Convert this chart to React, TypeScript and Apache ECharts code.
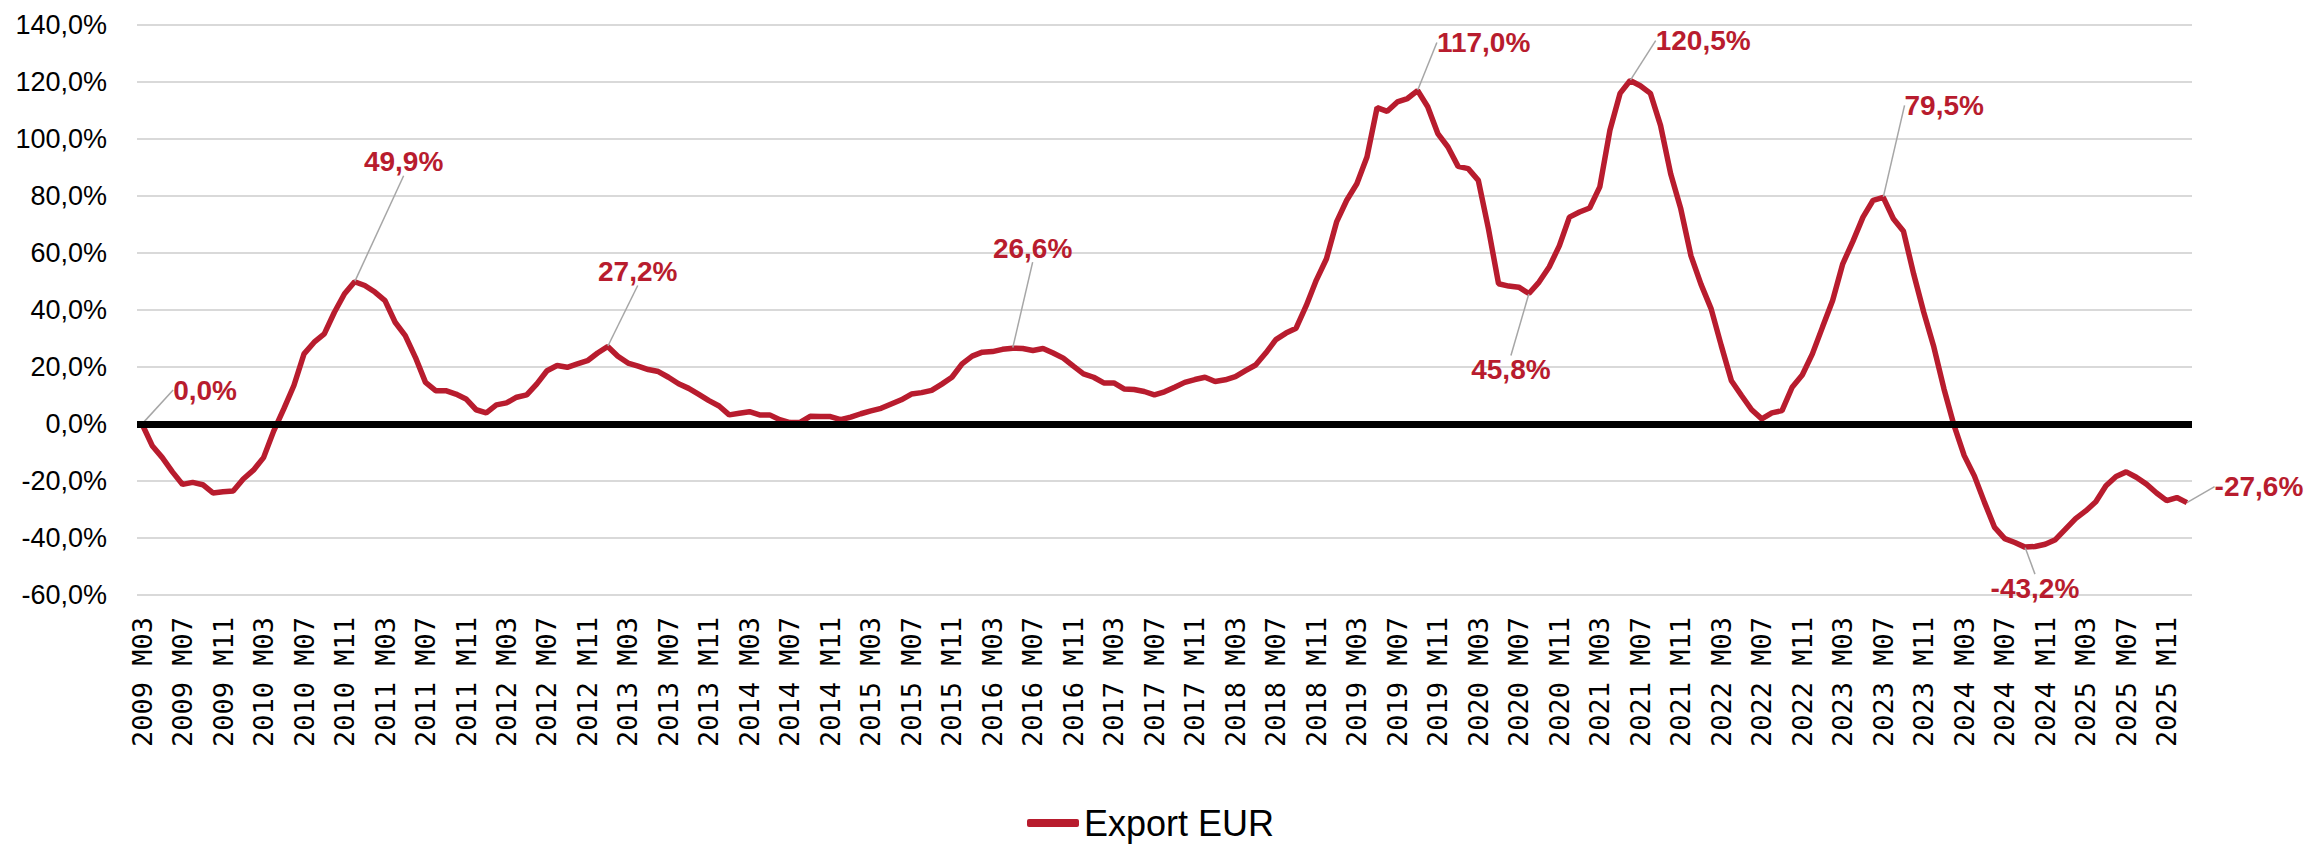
import React, { useEffect, useRef } from "react";
import * as echarts from "echarts";

const startYear = 2009;
const startMonth = 3;
const monthCount = 203;
const categories: string[] = [];
for (let i = 0; i < monthCount; i++) {
  const m = startMonth - 1 + i;
  const y = startYear + Math.floor(m / 12);
  const mm = (m % 12) + 1;
  categories.push(`${y} M${mm < 10 ? "0" + mm : mm}`);
}

const exportEur: number[] = [
  0.0, -7.6, -11.8, -16.8, -21.2, -20.5, -21.3, -24.2, -23.8, -23.5,
  -19.3, -16.2, -11.8, -2.5, 5.3, 13.5, 24.6, 28.7, 31.6, 39.2,
  45.7, 49.9, 48.6, 46.3, 43.3, 35.7, 31.0, 23.4, 14.6, 11.7,
  11.7, 10.5, 8.8, 5.0, 3.9, 6.7, 7.4, 9.4, 10.2, 14.1,
  18.7, 20.5, 19.9, 21.1, 22.2, 24.9, 27.2, 23.8, 21.4, 20.3,
  19.1, 18.4, 16.4, 14.1, 12.5, 10.4, 8.2, 6.3, 3.2, 3.8,
  4.3, 3.2, 3.2, 1.5, 0.5, 0.6, 2.7, 2.6, 2.6, 1.5,
  2.4, 3.6, 4.6, 5.5, 7.0, 8.5, 10.5, 11.0, 11.8, 14.0,
  16.4, 21.1, 23.8, 25.2, 25.4, 26.2, 26.6, 26.5, 25.8, 26.5,
  24.9, 23.1, 20.3, 17.6, 16.4, 14.4, 14.4, 12.3, 12.1, 11.4,
  10.2, 11.3, 12.9, 14.6, 15.6, 16.4, 14.9, 15.5, 16.6, 18.7,
  20.7, 24.9, 29.6, 31.9, 33.6, 41.5, 50.5, 58.0, 70.9, 78.5,
  84.3, 93.7, 111.0, 109.7, 113.0, 114.2, 117.0, 111.3, 101.9, 97.2,
  90.4, 89.6, 85.5, 68.5, 49.2, 48.4, 48.0, 45.8, 49.8, 55.1,
  62.5, 72.6, 74.4, 75.8, 83.2, 103.1, 116.0, 120.5, 118.7, 116.0,
  104.8, 87.8, 75.5, 59.1, 49.0, 40.4, 27.5, 15.2, 10.0, 5.0,
  1.8, 3.9, 4.7, 12.9, 17.2, 24.6, 34.0, 43.3, 56.2, 64.1,
  72.6, 78.5, 79.5, 72.0, 67.6, 52.7, 39.2, 27.0, 12.3, -0.6,
  -11.1, -18.2, -27.5, -36.3, -40.2, -41.6, -43.2, -43.0, -42.2, -40.6,
  -36.9, -33.2, -30.5, -27.3, -21.7, -18.4, -16.8, -18.7, -21.1, -24.2,
  -26.9, -25.8, -27.6,
];

// indices of the annotated points and where their labels sit relative to the point
const annotIdx: number[] = [0, 21, 46, 86, 126, 137, 147, 172, 186, 202];
const annotDx: number[] = [63, 49, 30, 20, 66, -18, 73, 61, 10, 72];
const annotDy: number[] = [-34, -120, -75, -100, -48, 76, -40, -92, 41, -16];

const yMin = -60;
const yMax = 140;
const yStep = 20;

const RED = "#B81C2E";
const FONT = "'Liberation Sans', Arial, sans-serif";

const fmt = (v: number) => v.toFixed(1).replace(".", ",") + "%";

export default function App() {
  const ref = useRef<HTMLDivElement>(null);
  useEffect(() => {
    if (!ref.current) return;
    const chart = echarts.init(ref.current, null, { renderer: "svg" });
    const data = exportEur.map((v, i) =>
      annotIdx.indexOf(i) >= 0 ? { value: v, label: { show: true } } : v
    );
    chart.setOption({
      animation: false,
      backgroundColor: "#fff",
      grid: { left: 137, right: 115, top: 25, bottom: 249, containLabel: false },
      legend: {
        data: ["Export EUR"],
        left: 1022,
        top: 800,
        icon: "roundRect",
        itemWidth: 52,
        itemHeight: 8,
        itemGap: 10,
        textStyle: { fontSize: 36, fontFamily: FONT, color: "#000" },
      },
      xAxis: {
        type: "category",
        data: categories,
        boundaryGap: true,
        axisLine: { show: false },
        axisTick: { show: false },
        splitLine: { show: false },
        axisLabel: {
          rotate: 90,
          interval: 3,
          margin: 22,
          fontFamily: "'DejaVu Sans Mono', monospace",
          fontSize: 27,
          color: "#000",
        },
      },
      yAxis: {
        type: "value",
        min: yMin,
        max: yMax,
        interval: yStep,
        axisLine: { show: false },
        axisTick: { show: false },
        splitLine: { show: true, lineStyle: { color: "#D9D9D9", width: 2 } },
        axisLabel: {
          formatter: (v: number) => fmt(v),
          fontFamily: FONT,
          fontSize: 27,
          color: "#000",
          margin: 30,
        },
      },
      series: [
        {
          name: "Export EUR",
          type: "line",
          data,
          symbol: "circle",
          symbolSize: 1,
          showSymbol: true,
          showAllSymbol: true,
          itemStyle: { color: RED },
          lineStyle: { color: RED, width: 5.5 },
          emphasis: { disabled: true },
          label: {
            show: false,
            position: "inside",
            fontFamily: FONT,
            fontWeight: "bold",
            fontSize: 28,
            color: RED,
            padding: 9,
            formatter: (p: any) => fmt(p.value),
          },
          labelLine: { show: true, lineStyle: { color: "#A6A6A6", width: 1.5 } },
          labelLayout: (params: any) => {
            const k = annotIdx.indexOf(params.dataIndex);
            if (k < 0) return {};
            return { dx: annotDx[k], dy: annotDy[k] };
          },
          markLine: {
            silent: true,
            symbol: ["none", "none"],
            label: { show: false },
            lineStyle: { color: "#000", width: 7, type: "solid" },
            data: [{ yAxis: 0 }],
          },
          z: 3,
        },
      ],
    });
    return () => chart.dispose();
  }, []);
  return (
    <div
      ref={ref}
      style={{ position: "absolute", left: 0, top: 0, width: 2307, height: 844 }}
    />
  );
}
